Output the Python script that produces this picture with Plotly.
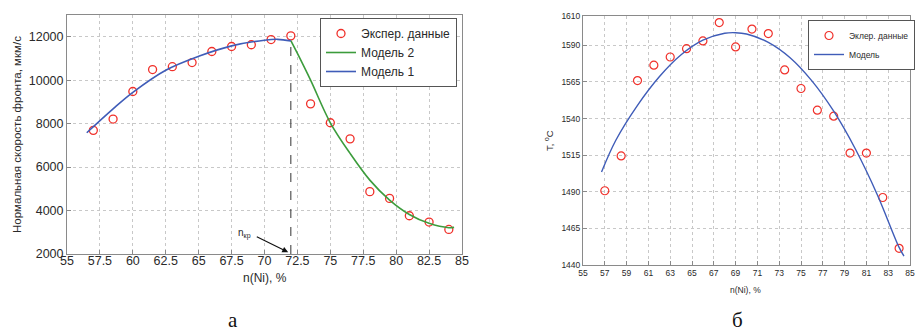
import plotly.graph_objects as go

# ---------------- data: panel а ----------------
ni_exp = [57, 58.5, 60, 61.5, 63, 64.5, 66, 67.5, 69, 70.5, 72, 73.5, 75, 76.5, 78, 79.5, 81, 82.5, 84]
speed_exp = [7690, 8210, 9480, 10490, 10620, 10810, 11320, 11550, 11630, 11870, 12040,
             8910, 8040, 7300, 4870, 4560, 3760, 3470, 3130]
model1_x = [56.5, 58.5, 60, 62.5, 65, 67.5, 70, 71, 72]
model1_y = [7580, 8680, 9440, 10460, 11100, 11580, 11840, 11880, 11810]
model2_x = [72, 72.5, 73.5, 75, 76.5, 78, 79.5, 81, 82.5, 84, 84.4]
model2_y = [11820, 11230, 10000, 8040, 6630, 5400, 4480, 3820, 3410, 3210, 3225]
n_kr = 72
a_xticks = [55, 57.5, 60, 62.5, 65, 67.5, 70, 72.5, 75, 77.5, 80, 82.5, 85]
a_xticklabels = ["55", "57.5", "60", "62.5", "65", "67.5", "70", "72.5", "75", "77.5", "80", "82.5", "85"]
a_yticks = [2000, 4000, 6000, 8000, 10000, 12000]
a_yticklabels = ["2000", "4000", "6000", "8000", "10000", "12000"]

# ---------------- data: panel б ----------------
temp_exp = [1490.7, 1514.5, 1565.9, 1576.4, 1582.0, 1587.7, 1593.0, 1605.5, 1588.9, 1601.1,
            1598.0, 1573.2, 1560.5, 1545.7, 1541.6, 1516.4, 1516.4, 1486.1, 1451.4]
model_x = [56.7, 58, 60, 62, 64, 66, 68, 69, 70, 72, 74, 76, 78, 80, 82, 84, 84.45]
model_y = [1503.5, 1525, 1549, 1568.5, 1583.5, 1593.5, 1598.2, 1598.6, 1597.7, 1592, 1581.5,
           1565.7, 1545, 1519, 1488, 1452, 1446]
b_xticks = list(range(55, 86, 2))
b_yticks = [1440, 1465, 1490, 1515, 1540, 1565, 1590, 1610]

W, H = 916, 334
RED = "#f0302a"
BLUE = "#3f5cb8"
GREEN = "#3c9c3c"
AXC = "#8a8a8a"
TXT = "#2a2a2a"
FONT = "Liberation Sans"

fig = go.Figure()

# panel а traces
fig.add_trace(go.Scatter(x=ni_exp, y=speed_exp, mode="markers", name="Экспер. данные",
                         marker=dict(symbol="circle-open", size=8, color=RED, line=dict(width=1.3, color=RED)),
                         xaxis="x", yaxis="y", legend="legend"))
fig.add_trace(go.Scatter(x=model2_x, y=model2_y, mode="lines", name="Модель 2",
                         line=dict(color=GREEN, width=1.6, shape="spline"),
                         xaxis="x", yaxis="y", legend="legend"))
fig.add_trace(go.Scatter(x=model1_x, y=model1_y, mode="lines", name="Модель 1",
                         line=dict(color=BLUE, width=1.6, shape="spline"),
                         xaxis="x", yaxis="y", legend="legend"))
fig.add_trace(go.Scatter(x=[n_kr, n_kr], y=[a_yticks[0], model2_y[0]], mode="lines",
                         line=dict(color="#333333", width=1, dash="dash"), showlegend=False,
                         xaxis="x", yaxis="y"))

# panel б traces
fig.add_trace(go.Scatter(x=ni_exp, y=temp_exp, mode="markers", name="Эклер. данные",
                         marker=dict(symbol="circle-open", size=8, color=RED, line=dict(width=1.2, color=RED)),
                         xaxis="x2", yaxis="y2", legend="legend2"))
fig.add_trace(go.Scatter(x=model_x, y=model_y, mode="lines", name="Модель",
                         line=dict(color=BLUE, width=1.4, shape="spline"),
                         xaxis="x2", yaxis="y2", legend="legend2"))

def px_x(p):
    return p / W

def px_y(p):
    return 1 - p / H

axis_common = dict(showline=True, linecolor=AXC, linewidth=1, mirror=True, ticks="inside",
                   ticklen=4, tickcolor=AXC, showgrid=True, gridcolor="#c8c8c8", griddash="dot",
                   gridwidth=1, zeroline=False, automargin=False)

fig.update_layout(
    width=W, height=H, autosize=False,
    margin=dict(l=0, r=0, t=0, b=0, autoexpand=False),
    paper_bgcolor="white", plot_bgcolor="white",
    font=dict(family=FONT, color=TXT),
    xaxis=dict(domain=[px_x(67), px_x(462)], range=[55, 85], tickvals=a_xticks, ticktext=a_xticklabels,
               tickfont=dict(size=12.5, color=TXT), anchor="y", ticklabelstandoff=-5, **axis_common),
    yaxis=dict(domain=[px_y(254), px_y(15)], range=[2000, 13000], tickvals=a_yticks, ticktext=a_yticklabels,
               tickfont=dict(size=12.5, color=TXT), anchor="x", **axis_common),
    xaxis2=dict(domain=[px_x(583), px_x(910)], range=[55, 85], tickvals=b_xticks,
                tickfont=dict(size=8.5, color=TXT), anchor="y2", **axis_common),
    yaxis2=dict(domain=[px_y(265), px_y(16)], range=[1440, 1610], tickvals=b_yticks,
                tickfont=dict(size=8.5, color=TXT), anchor="x2", **axis_common),
    legend=dict(x=px_x(320), y=px_y(18), xanchor="left", yanchor="top",
                bgcolor="white", bordercolor="#555555", borderwidth=1,
                font=dict(size=12, color=TXT), tracegroupgap=0, itemwidth=30,
                traceorder="normal"),
    legend2=dict(x=px_x(808), y=px_y(20), xanchor="left", yanchor="top",
                 bgcolor="white", bordercolor="#555555", borderwidth=1,
                 font=dict(size=8.5, color=TXT), tracegroupgap=0, itemwidth=30,
                 traceorder="normal"),
    showlegend=True,
)

annotations = [
    # axis titles
    dict(text="Нормальная скорость фронта, мкм/с", x=px_x(17), y=px_y(135), xref="paper", yref="paper",
         textangle=-90, showarrow=False, font=dict(size=11.5, color=TXT), xanchor="center", yanchor="middle"),
    dict(text="n(Ni), %", x=px_x(265), y=px_y(278), xref="paper", yref="paper",
         showarrow=False, font=dict(size=12, color=TXT), xanchor="center", yanchor="middle"),
    dict(text="T, <sup>o</sup>C", x=px_x(549), y=px_y(141), xref="paper", yref="paper",
         textangle=-90, showarrow=False, font=dict(size=9.5, color=TXT), xanchor="center", yanchor="middle"),
    dict(text="n(Ni), %", x=px_x(745), y=px_y(290), xref="paper", yref="paper",
         showarrow=False, font=dict(size=8.5, color=TXT), xanchor="center", yanchor="middle"),
    # n_kr marker
    dict(text="n<sub>кр</sub>", x=68.5, y=2950, xref="x", yref="y", showarrow=False,
         font=dict(size=10, color=TXT), xanchor="center", yanchor="middle"),
    dict(text="", x=n_kr - 0.2, y=a_yticks[0] + 80, ax=69.3, ay=2830, xref="x", yref="y",
         axref="x", ayref="y", showarrow=True, arrowhead=2, arrowsize=1, arrowwidth=1.2,
         arrowcolor="#111111"),
    # panel letters
    dict(text="а", x=px_x(233), y=px_y(334), xref="paper", yref="paper", showarrow=False,
         font=dict(size=21, family="Liberation Serif", color="#111111"), xanchor="center", yanchor="bottom"),
    dict(text="б", x=px_x(737), y=px_y(334), xref="paper", yref="paper", showarrow=False,
         font=dict(size=21, family="Liberation Serif", color="#111111"), xanchor="center", yanchor="bottom"),
]
fig.update_layout(annotations=annotations)

fig.write_html("out.html", config={"displayModeBar": False},
               post_script="document.body.style.margin='0';document.body.style.overflow='hidden';")
